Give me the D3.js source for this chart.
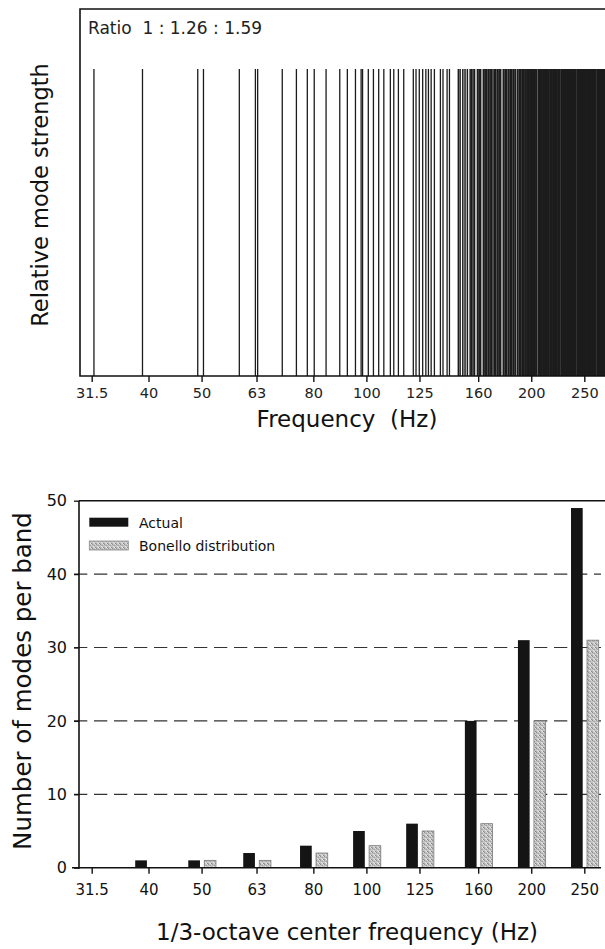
<!DOCTYPE html>
<html><head><meta charset="utf-8">
<script src="https://cdn.jsdelivr.net/npm/d3@7"></script>
<style>html,body{margin:0;padding:0;background:#fff;} svg{display:block;font-family:"DejaVu Sans",Verdana,sans-serif;}</style>
</head><body><svg id="c" width="605" height="949"></svg>
<script>
// ---------- data ----------
const bandLabels = ["31.5","40","50","63","80","100","125","160","200","250"];
const bandCenters = [31.5,40,50,63,80,100,125,160,200,250];
const actualCounts = [0,1,1,2,3,5,6,20,31,49];
const bonelloCounts = [0,0,1,1,2,3,5,6,20,31];
const yTickValues = [0,10,20,30,40,50];
const gridValues = [10,20,30,40];
const legendLabels = ["Actual","Bonello distribution"];
const ratioLabel = "Ratio  1 : 1.26 : 1.59";
// room-mode frequencies (Hz)
const modeFreqs = [31.8, 39.0, 49.2, 50.4, 58.6, 62.7, 63.3, 70.2, 74.5, 78.0, 80.3, 84.4, 89.4, 92.3,
 95.5, 97.8, 98.4, 100.8, 103.0, 105.3, 107.6, 110.6, 112.2, 114.4, 117.0, 121.8, 123.2, 124.9, 126.7,
 128.4, 129.8, 131.3, 133.1, 136.5, 138.0, 140.4, 141.8, 147.2, 148.3, 150.0, 151.4, 152.9, 154.7, 155.6,
 156.6, 157.6, 159.5, 160.6, 161.6, 163.6, 164.7, 165.8, 167.0, 168.2, 169.5, 171.1, 172.2, 173.5, 174.7,
 175.8, 177.9, 179.2, 180.3, 181.7, 183.0, 184.3, 185.6, 186.9, 188.7, 190.1, 191.3, 192.5, 193.6, 195.0,
 196.6, 197.8, 199.1, 200.3, 201.6, 202.9, 204.2, 206.2, 207.6, 209.1, 210.5, 211.9, 213.6, 215.0, 216.6,
 218.1, 219.6, 221.1, 222.5, 224.0, 225.2, 227.0, 228.1, 229.3, 230.4, 231.6, 232.8, 233.9, 235.1, 236.3,
 237.5, 238.7, 239.9, 241.1, 243.0, 244.2, 245.4, 246.7, 247.9, 249.2, 250.5, 251.7, 253.0, 254.3, 255.6,
 256.9, 258.2, 259.5, 260.8, 262.1, 264.1, 265.4, 266.8, 268.1, 269.5, 270.8, 272.2, 273.6];

// ---------- setup ----------
const W = 605, H = 949;
const svg = d3.select("#c");
svg.append("rect").attr("width", W).attr("height", H).attr("fill", "#fff");
const defs = svg.append("defs");
defs.append("clipPath").attr("id","topclip").append("rect")
  .attr("x", 80).attr("y", 0).attr("width", W - 80).attr("height", 380);
const pat = defs.append("pattern").attr("id","stip").attr("patternUnits","userSpaceOnUse")
  .attr("width", 4).attr("height", 4);
pat.append("rect").attr("width",4).attr("height",4).attr("fill","#c4c4c4");
[[0,0,"#909090"],[2,1,"#a2a2a2"],[1,2,"#e6e6e6"],[3,3,"#8a8a8a"],[3,0,"#dcdcdc"],[0,3,"#acacac"],[2,3,"#e8e8e8"],[1,1,"#b0b0b0"]]
  .forEach(([px,py,c]) => pat.append("rect").attr("x",px).attr("y",py).attr("width",1).attr("height",1).attr("fill",c));

const x = d3.scaleLog().domain([31.5, 250]).range([91.7, 584.3]);

// ---------- top chart ----------
const T = {left: 80, top: 9, bottom: 376, lineTop: 69};
const gTop = svg.append("g");
gTop.append("g").attr("clip-path","url(#topclip)")
  .selectAll("line").data(modeFreqs).join("line")
  .attr("x1", d => x(d)).attr("x2", d => x(d))
  .attr("y1", T.lineTop).attr("y2", T.bottom)
  .attr("stroke", "#1c1c1c")
  .attr("stroke-width", d => d < 145 ? 1.3 : (d < 160 ? 1.5 : (d < 195 ? 1.8 : 2.2)));

gTop.append("path")
  .attr("d", `M${W},${T.top}H${T.left}V${T.bottom}H${W}`)
  .attr("fill","none").attr("stroke","#111").attr("stroke-width",1.6);

const axTop = gTop.append("g").attr("transform", `translate(0,${T.bottom})`)
  .call(d3.axisBottom(x).tickValues(bandCenters).tickFormat((d,i) => bandLabels[i]).tickSize(6).tickPadding(6));
axTop.select(".domain").remove();
axTop.selectAll(".tick line").attr("stroke","#111").attr("stroke-width",1.4);
axTop.selectAll(".tick text").attr("fill","#222").style("font-size","14.5px").style("font-family","DejaVu Sans");

gTop.append("text").attr("x", 88).attr("y", 34).attr("fill","#222")
  .style("font-size","17px").attr("xml:space","preserve").text(ratioLabel);

gTop.append("text").attr("x", 347).attr("y", 427).attr("text-anchor","middle").attr("fill","#111")
  .style("font-size","23px").attr("xml:space","preserve").text("Frequency  (Hz)");

gTop.append("text").attr("transform","translate(48,195) rotate(-90)").attr("text-anchor","middle")
  .attr("fill","#111").style("font-size","22.5px").text("Relative mode strength");

// ---------- bottom chart ----------
const B = {left: 79, top: 500.7, bottom: 867.7};
const y = d3.scaleLinear().domain([0, 50]).range([B.bottom, B.top]);
const gB = svg.append("g");

gB.selectAll("line.grid").data(gridValues).join("line").attr("class","grid")
  .attr("x1", 74).attr("x2", 601).attr("y1", d => y(d)).attr("y2", d => y(d))
  .attr("stroke","#333").attr("stroke-width",1.2).attr("stroke-dasharray","13.3,6.7");

// top border
gB.append("line").attr("x1", B.left).attr("x2", W).attr("y1", y(50)).attr("y2", y(50))
  .attr("stroke","#111").attr("stroke-width",1.6);

const barW = 11.7;
gB.selectAll("rect.act").data(bandCenters).join("rect").attr("class","act")
  .attr("x", d => x(d) - 13.3).attr("width", barW)
  .attr("y", (d,i) => y(actualCounts[i])).attr("height", (d,i) => y(0) - y(actualCounts[i]))
  .attr("fill","#141414");
gB.selectAll("rect.bon").data(bandCenters).join("rect").attr("class","bon")
  .attr("x", d => x(d) + 2.7).attr("width", barW)
  .attr("y", (d,i) => y(bonelloCounts[i])).attr("height", (d,i) => y(0) - y(bonelloCounts[i]))
  .attr("fill","url(#stip)").attr("stroke", (d,i) => bonelloCounts[i] > 0 ? "#7a7a7a" : "none").attr("stroke-width",0.8);

// y axis
const axY = gB.append("g").attr("transform", `translate(${B.left},0)`)
  .call(d3.axisLeft(y).tickValues(yTickValues).tickSize(5).tickPadding(7));
axY.select(".domain").attr("stroke","#111").attr("stroke-width",1.6)
  .attr("d", `M0,${y(50)}V${y(0)+1}`);
axY.selectAll(".tick line").attr("stroke","#111").attr("stroke-width",1.3);
axY.selectAll(".tick text").attr("fill","#111").style("font-size","16px").style("font-family","DejaVu Sans");

// x axis
const axX = gB.append("g").attr("transform", `translate(0,${B.bottom})`)
  .call(d3.axisBottom(x).tickValues(bandCenters).tickFormat((d,i) => bandLabels[i]).tickSize(6).tickPadding(11));
axX.select(".domain").attr("stroke","#111").attr("stroke-width",1.6).attr("d", "M72,0H601");
axX.selectAll(".tick line").attr("stroke","#111").attr("stroke-width",1.4);
axX.selectAll(".tick text").attr("fill","#111").style("font-size","15px").style("font-family","DejaVu Sans");

// legend
const leg = gB.append("g");
leg.append("rect").attr("x", 89.3).attr("y", 517.7).attr("width", 39).attr("height", 9).attr("fill","#141414");
leg.append("rect").attr("x", 89.3).attr("y", 541).attr("width", 39).attr("height", 9)
  .attr("fill","url(#stip)").attr("stroke","#8a8a8a").attr("stroke-width",0.8);
leg.selectAll("text").data(legendLabels).join("text")
  .attr("x", 139).attr("y", (d,i) => 527.5 + i * 23.5).attr("fill","#111")
  .style("font-size","14px").text(d => d);

gB.append("text").attr("x", 347).attr("y", 940).attr("text-anchor","middle").attr("fill","#111")
  .style("font-size","23px").text("1/3-octave center frequency (Hz)");
gB.append("text").attr("transform","translate(31,681) rotate(-90)").attr("text-anchor","middle")
  .attr("fill","#111").style("font-size","24.5px").text("Number of modes per band");
</script></body></html>
